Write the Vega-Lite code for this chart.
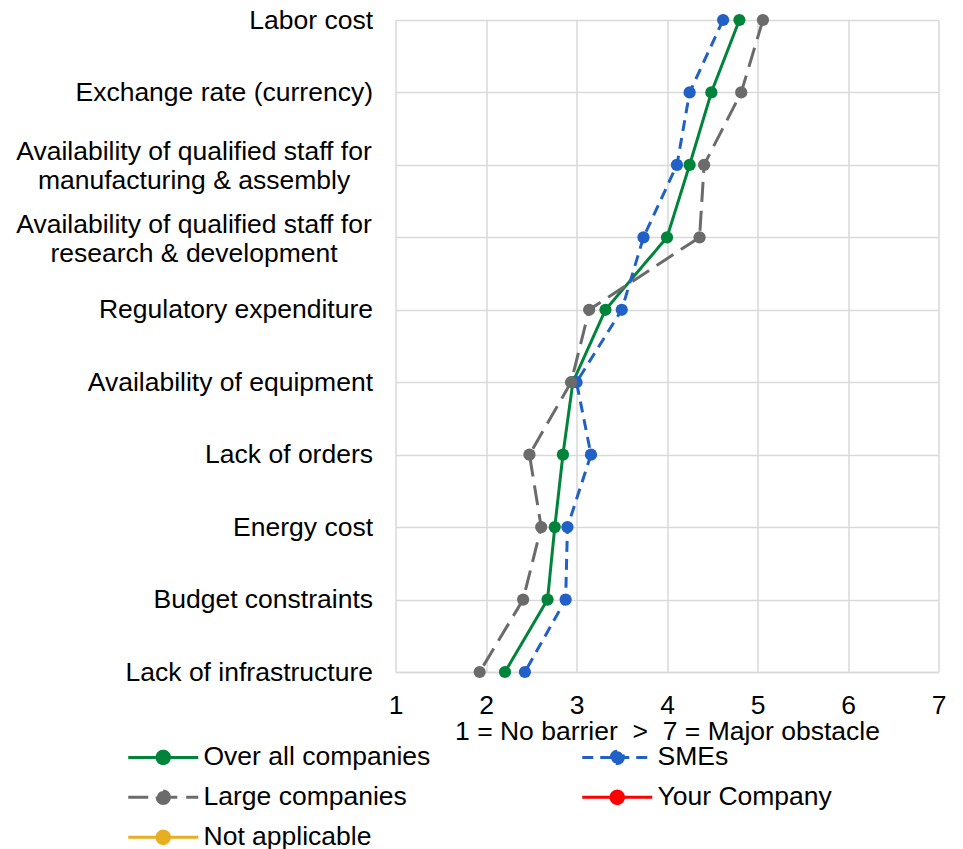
{
  "$schema": "https://vega.github.io/schema/vega-lite/v6.json",
  "width": 543,
  "height": 652,
  "autosize": {"type": "none"},
  "padding": {"left": 395.5, "top": 20, "right": 24.5, "bottom": 177},
  "background": "white",
  "config": {
    "font": "Liberation Sans",
    "view": {"stroke": null},
    "axis": {
      "labelFont": "Liberation Sans",
      "titleFont": "Liberation Sans",
      "labelColor": "#000000",
      "titleColor": "#000000",
      "labelFontSize": 26.5,
      "titleFontSize": 26.5,
      "titleFontWeight": "normal",
      "gridColor": "#d9d9d9",
      "gridWidth": 1.5,
      "gridOpacity": 1,
      "domainColor": "#d9d9d9",
      "domainWidth": 1.5,
      "ticks": false
    }
  },
  "data": {
    "values": [
      {"factor": "Labor cost", "rank": 1, "Over all companies": 4.80, "SMEs": 4.62, "Large companies": 5.06},
      {"factor": "Exchange rate (currency)", "rank": 2, "Over all companies": 4.49, "SMEs": 4.25, "Large companies": 4.82},
      {"factor": "Availability of qualified staff for|manufacturing & assembly", "rank": 3, "Over all companies": 4.25, "SMEs": 4.11, "Large companies": 4.41},
      {"factor": "Availability of qualified staff for|research & development", "rank": 4, "Over all companies": 4.00, "SMEs": 3.74, "Large companies": 4.36},
      {"factor": "Regulatory expenditure", "rank": 5, "Over all companies": 3.32, "SMEs": 3.50, "Large companies": 3.14},
      {"factor": "Availability of equipment", "rank": 6, "Over all companies": 2.96, "SMEs": 3.00, "Large companies": 2.94},
      {"factor": "Lack of orders", "rank": 7, "Over all companies": 2.85, "SMEs": 3.16, "Large companies": 2.48},
      {"factor": "Energy cost", "rank": 8, "Over all companies": 2.76, "SMEs": 2.90, "Large companies": 2.61},
      {"factor": "Budget constraints", "rank": 9, "Over all companies": 2.68, "SMEs": 2.88, "Large companies": 2.41},
      {"factor": "Lack of infrastructure", "rank": 10, "Over all companies": 2.21, "SMEs": 2.43, "Large companies": 1.93}
    ]
  },
  "transform": [
    {"fold": ["Over all companies", "SMEs", "Large companies"], "as": ["series", "score"]}
  ],
  "encoding": {
    "x": {
      "field": "score",
      "type": "quantitative",
      "scale": {"domain": [1, 7], "nice": false, "zero": false},
      "axis": {
        "values": [1, 2, 3, 4, 5, 6, 7],
        "title": "1 = No barrier\u00a0\u00a0>\u00a0\u00a07 = Major obstacle",
        "labelPadding": 20,
        "labelFlush": false,
        "titlePadding": 0,
        "grid": true
      }
    },
    "y": {
      "field": "factor",
      "type": "nominal",
      "sort": {"field": "rank", "op": "min"},
      "scale": {"type": "point", "padding": 0},
      "axis": {
        "title": null,
        "grid": true,
        "domain": false,
        "labelLineHeight": 29,
        "labelLimit": 400,
        "labelAlign": {"condition": {"test": "indexof(datum.label, '|') >= 0", "value": "center"}, "value": "right"},
        "labelPadding": {"condition": {"test": "indexof(datum.label, '|') >= 0", "value": 202}, "value": 23},
        "labelOffset": {"condition": {"test": "indexof(datum.label, '|') >= 0", "value": -13}, "value": 0},
        "labelExpr": "split(datum.label, '|')"
      }
    }
  },
  "layer": [
    {
      "mark": {"type": "line", "strokeWidth": 3},
      "encoding": {
        "order": {"field": "rank"},
        "color": {
          "field": "series",
          "type": "nominal",
          "scale": {
            "domain": ["Over all companies", "SMEs", "Large companies", "Your Company", "Not applicable"],
            "range": ["#00843c", "#2160c6", "#6b6b6b", "#ff0000", "#e8ae22"]
          },
          "legend": {
            "title": null,
            "orient": "none",
            "direction": "horizontal",
            "legendX": -245.5,
            "legendY": 724,
            "columns": 2,
            "columnPadding": 145,
            "rowPadding": 13,
            "labelFont": "Liberation Sans",
            "labelFontSize": 26.5,
            "labelColor": "#000000",
            "labelOffset": 27,
            "labelLimit": 400,
            "symbolType": "M-3.5,0L3.5,0M0.62,0A0.62,0.62,0,1,1,-0.62,0A0.62,0.62,0,1,1,0.62,0Z",
            "symbolSize": 400,
            "symbolStrokeWidth": 3,
            "symbolOpacity": 1,
            "encode": {
              "symbols": {
                "update": {
                  "fill": {"scale": "color", "field": "value"},
                  "fillOpacity": {"value": 1}
                }
              }
            }
          }
        },
        "strokeDash": {
          "field": "series",
          "type": "nominal",
          "scale": {
            "domain": ["Over all companies", "SMEs", "Large companies", "Your Company", "Not applicable"],
            "range": [[1, 0], [11, 7], [20, 9], [1, 0], [1, 0]]
          },
          "legend": {
            "title": null,
            "orient": "none",
            "direction": "horizontal",
            "legendX": -245.5,
            "legendY": 724,
            "columns": 2
          }
        }
      }
    },
    {
      "mark": {"type": "point", "filled": true, "size": 150, "opacity": 1},
      "encoding": {
        "color": {
          "field": "series",
          "type": "nominal",
          "scale": {
            "domain": ["Over all companies", "SMEs", "Large companies", "Your Company", "Not applicable"],
            "range": ["#00843c", "#2160c6", "#6b6b6b", "#ff0000", "#e8ae22"]
          },
          "legend": null
        }
      }
    }
  ]
}
